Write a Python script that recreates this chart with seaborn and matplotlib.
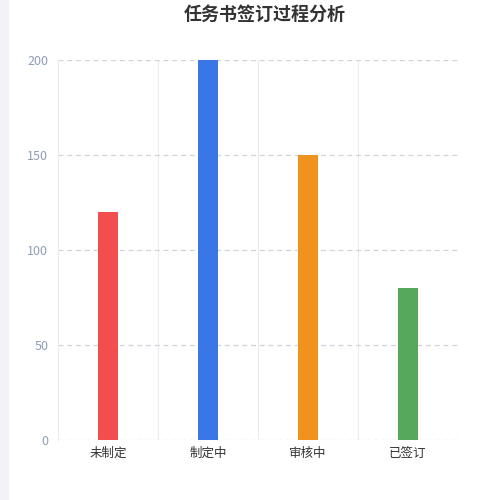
import matplotlib.pyplot as plt
import seaborn as sns
import pandas as pd
from matplotlib.ticker import MultipleLocator
from matplotlib.patches import Rectangle

stages = ['未制定', '制定中', '审核中', '已签订']
counts = [120, 200, 150, 80]
colors = ['#f24e4e', '#3b76e6', '#f0921e', '#55a85c']
y_ticks = [0, 50, 100, 150, 200]

sns.set_style('white')
plt.rcParams['font.family'] = ['Noto Sans CJK SC', 'DejaVu Sans']

df = pd.DataFrame({'stage': stages, 'count': counts})

fig = plt.figure(figsize=(5, 5), dpi=100)
# light band at left edge
fig.patches.append(Rectangle((0, 0), 8 / 500, 1, transform=fig.transFigure,
                             color='#f2f2f8', zorder=0))
ax = fig.add_axes([0.116, 0.12, 0.8, 0.76])

sns.barplot(data=df, x='stage', y='count', hue='stage', palette=colors,
            width=0.2, legend=False, ax=ax, saturation=1, linewidth=0)

ax.set_xlim(-0.5, 3.5)
ax.set_ylim(0, 200)
ax.set_yticks(y_ticks)
ax.set_xticks([0.5, 1.5, 2.5], minor=True)
ax.set_xticks(range(len(stages)))
ax.set_xticklabels(stages)

ax.grid(axis='y', color='#cfd3da', linestyle=(0, (4, 3)), linewidth=0.9)
ax.grid(axis='x', which='minor', color='#eaecf0', linewidth=0.8)
ax.set_axisbelow(True)
for s in ['top', 'right', 'bottom']:
    ax.spines[s].set_visible(False)
ax.spines['left'].set_color('#eaecf0')
ax.spines['left'].set_linewidth(0.8)
ax.axvline(3.5, color='#eaecf0', linewidth=0.8, zorder=0)

ax.tick_params(axis='y', length=5, color='#cfd3da', labelsize=9, labelcolor='#8d9db5', pad=2)
ax.tick_params(axis='x', which='both', length=0, labelsize=9, labelcolor='#333333', pad=5)
ax.set_xlabel('')
ax.set_ylabel('')

fig.suptitle('任务书签订过程分析', x=0.53, y=0.99, fontsize=13,
             fontweight='bold', color='#333333')

fig.savefig('out.png', dpi=100)
